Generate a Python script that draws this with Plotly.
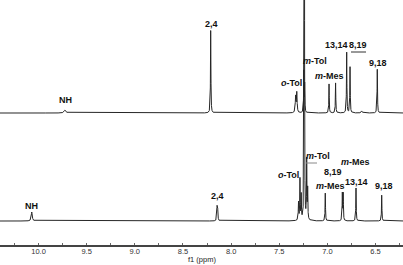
import numpy as np
import plotly.graph_objects as go

# ---- data: peak lists (ppm, height above own baseline) ----
upper_ppm = [9.725, 8.212, 7.330, 7.318, 7.245, 7.236, 6.983, 6.915, 6.800, 6.765, 6.644, 6.482]
upper_h   = [3, 83, 16, 20, 41, 28, 29, 30, 61, 46, 2, 44]
upper_w   = [0.010, 0.0025, 0.004, 0.004, 0.0025, 0.0025, 0.0025, 0.0025, 0.0025, 0.0025, 0.006, 0.0025]

lower_ppm = [10.070, 8.146, 8.140, 7.300, 7.285, 7.272, 7.240, 7.215, 7.205, 7.022, 6.845, 6.836, 6.703, 6.436]
lower_h   = [9, 13, 13, 18, 41, 25, 3000, 59, 30, 28, 27, 27, 33, 26]
lower_w   = [0.006, 0.003, 0.003, 0.003, 0.0025, 0.0025, 0.0008, 0.0025, 0.0025, 0.0025, 0.0025, 0.0025, 0.0025, 0.0025]

upper_base = 132
lower_base = 24

# labels: text, ppm, y
upper_labels = ["NH", "2,4", "<i>o</i>-Tol", "<i>m</i>-Tol", "<i>m</i>-Mes", "13,14", "8,19", "9,18"]
upper_lab_x  = [9.725, 8.201, 7.378, 7.129, 6.983, 6.905, 6.680, 6.478]
upper_lab_y  = [145, 221, 162, 184, 169, 200, 200, 182]

lower_labels = ["NH", "2,4", "<i>o</i>-Tol", "<i>m</i>-Tol", "<i>m</i>-Mes", "8,19", "<i>m</i>-Mes", "13,14", "9,18"]
lower_lab_x  = [10.071, 8.143, 7.409, 7.098, 6.973, 6.945, 6.713, 6.696, 6.412]
lower_lab_y  = [39, 49, 70, 89, 59, 73, 83, 63, 59]

tick_vals = [10.25, 10.0, 9.75, 9.5, 9.25, 9.0, 8.75, 8.5, 8.25, 8.0, 7.75, 7.5, 7.25, 7.0, 6.75, 6.5, 6.25]
tick_text = ["", "10.0", "", "9.5", "", "9.0", "", "8.5", "", "8.0", "", "7.5", "", "7.0", "", "6.5", ""]

x_lo, x_hi = 6.215, 10.40
grid = np.arange(x_lo - 0.01, x_hi + 0.01, 0.0004)


def spectrum(ppm, h, w, base):
    y = np.full_like(grid, float(base))
    for p, hh, ww in zip(ppm, h, w):
        y += hh / (1.0 + ((grid - p) / ww) ** 2)
    return y


fig = go.Figure()
line_col = "#262626"
fig.add_trace(go.Scatter(x=grid, y=spectrum(lower_ppm, lower_h, lower_w, lower_base),
                         mode="lines", line=dict(color=line_col, width=1), hoverinfo="skip"))
fig.add_trace(go.Scatter(x=grid, y=spectrum(upper_ppm, upper_h, upper_w, upper_base),
                         mode="lines", line=dict(color=line_col, width=1), hoverinfo="skip"))

lab_font = dict(family="Liberation Sans, Arial", size=9, color="#111111")
for t, x, y in zip(upper_labels + lower_labels, upper_lab_x + lower_lab_x, upper_lab_y + lower_lab_y):
    fig.add_annotation(x=x, y=y, xref="x", yref="y", text="<b>" + t + "</b>",
                       showarrow=False, font=lab_font)

# leader lines under labels
fig.add_shape(type="line", xref="x", yref="y", x0=6.755, x1=6.599, y0=193, y1=193,
              line=dict(color="#333333", width=1))
fig.add_shape(type="line", xref="x", yref="y", x0=7.222, x1=7.108, y0=82, y1=82,
              line=dict(color="#888888", width=1))

fig.add_annotation(x=0.5, y=-0.058, xref="paper", yref="paper", text="f1 (ppm)",
                   showarrow=False, yanchor="middle",
                   font=dict(family="Liberation Sans, Arial", size=7.5, color="#222222"))

fig.update_layout(
    width=403, height=265,
    margin=dict(l=0, r=0, t=0, b=20),
    paper_bgcolor="white", plot_bgcolor="white",
    showlegend=False,
    xaxis=dict(range=[x_hi, x_lo], tickmode="array", tickvals=tick_vals, ticktext=tick_text,
               showline=True, linecolor="#444444", linewidth=2, ticks="inside", ticklen=2,
               tickcolor="#666666", showgrid=False, zeroline=False, ticklabelstandoff=-2,
               tickfont=dict(family="Liberation Sans, Arial", size=7.5, color="#333333")),
    yaxis=dict(range=[0, 245], visible=False, showgrid=False, zeroline=False),
)

fig.write_html("out.html")
